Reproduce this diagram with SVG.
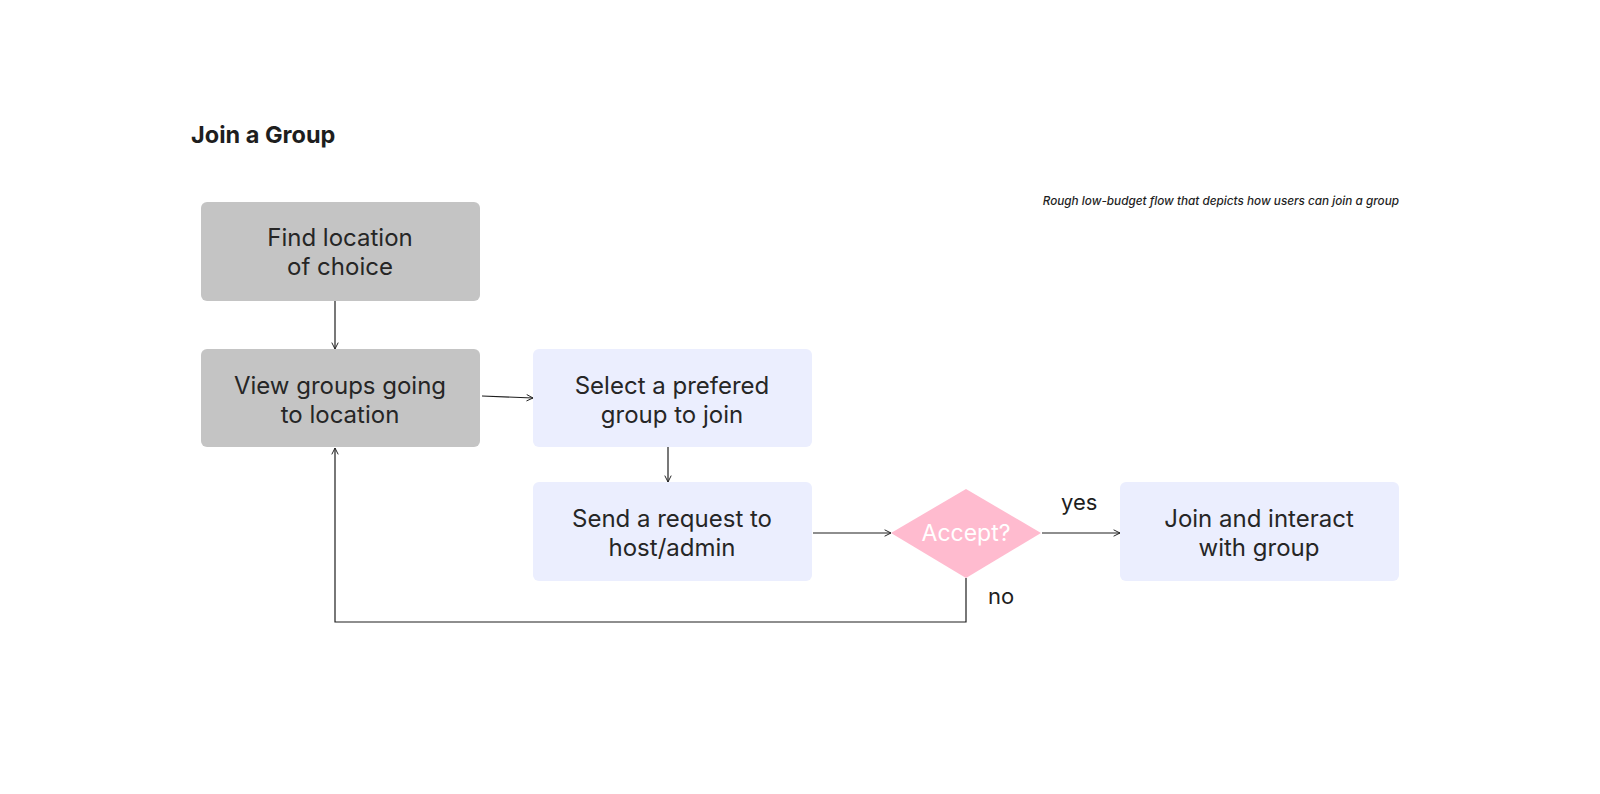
<svg xmlns="http://www.w3.org/2000/svg" width="1600" height="794" viewBox="0 0 1600 794">
<defs>
<marker id="arr" viewBox="0 0 10 10" refX="9" refY="5" markerWidth="8" markerHeight="8" orient="auto" markerUnits="userSpaceOnUse">
<path d="M1,1 L9,5 L1,9" fill="none" stroke="#1e1e1e" stroke-width="1.2"/>
</marker>
<style>
.gray{fill:#c4c4c4}
.lav{fill:#ebeefe}
.t{font-family:Inter,"Liberation Sans",sans-serif;font-size:24px;fill:#262626;text-anchor:middle}
.c{fill:none;stroke:#1e1e1e;stroke-width:1.2}
.lbl{font-family:Inter,"Liberation Sans",sans-serif;font-size:22px;fill:#1e1e1e}
</style>
</defs>
<rect width="1600" height="794" fill="#fff"/>
<text x="191" y="143" font-family="Inter,'Liberation Sans',sans-serif" font-size="23.5" font-weight="700" fill="#1e1e1e">Join a Group</text>
<text x="1399" y="205" font-family="Inter,'Liberation Sans',sans-serif" font-size="11.75" font-weight="500" font-style="italic" fill="#1e1e1e" text-anchor="end">Rough low-budget flow that depicts how users can join a group</text>
<g id="connectors">
<line class="c" x1="335" y1="301" x2="335" y2="349" marker-end="url(#arr)"/>
<line class="c" x1="482" y1="396" x2="533" y2="398" marker-end="url(#arr)"/>
<line class="c" x1="668" y1="447" x2="668" y2="482" marker-end="url(#arr)"/>
<line class="c" x1="813" y1="533" x2="891" y2="533" marker-end="url(#arr)"/>
<line class="c" x1="1042" y1="533" x2="1120" y2="533" marker-end="url(#arr)"/>
<polyline class="c" points="966,578 966,622 335,622 335,448" marker-end="url(#arr)"/>
<text class="lbl" x="1061" y="510">yes</text>
<text class="lbl" x="988" y="604">no</text>
</g>
<g id="n1">
<rect class="gray" x="201" y="202" width="279" height="99" rx="6"/>
<text class="t" x="340" y="246">Find location</text>
<text class="t" x="340" y="275">of choice</text>
</g>
<g id="n2">
<rect class="gray" x="201" y="349" width="279" height="98" rx="6"/>
<text class="t" x="340" y="394">View groups going</text>
<text class="t" x="340" y="423">to location</text>
</g>
<g id="n3">
<rect class="lav" x="533" y="349" width="279" height="98" rx="6"/>
<text class="t" x="672" y="394">Select a prefered</text>
<text class="t" x="672" y="423">group to join</text>
</g>
<g id="n4">
<rect class="lav" x="533" y="482" width="279" height="99" rx="6"/>
<text class="t" x="672" y="527">Send a request to</text>
<text class="t" x="672" y="556">host/admin</text>
</g>
<g id="n5">
<polygon points="966,489 1041,533 966,578 891,533" fill="#ffbbcf"/>
<text x="966" y="541" font-family="Inter,'Liberation Sans',sans-serif" font-size="23" fill="#fff" text-anchor="middle">Accept?</text>
</g>
<g id="n6">
<rect class="lav" x="1120" y="482" width="279" height="99" rx="6"/>
<text class="t" x="1259" y="527">Join and interact</text>
<text class="t" x="1259" y="556">with group</text>
</g>
</svg>
